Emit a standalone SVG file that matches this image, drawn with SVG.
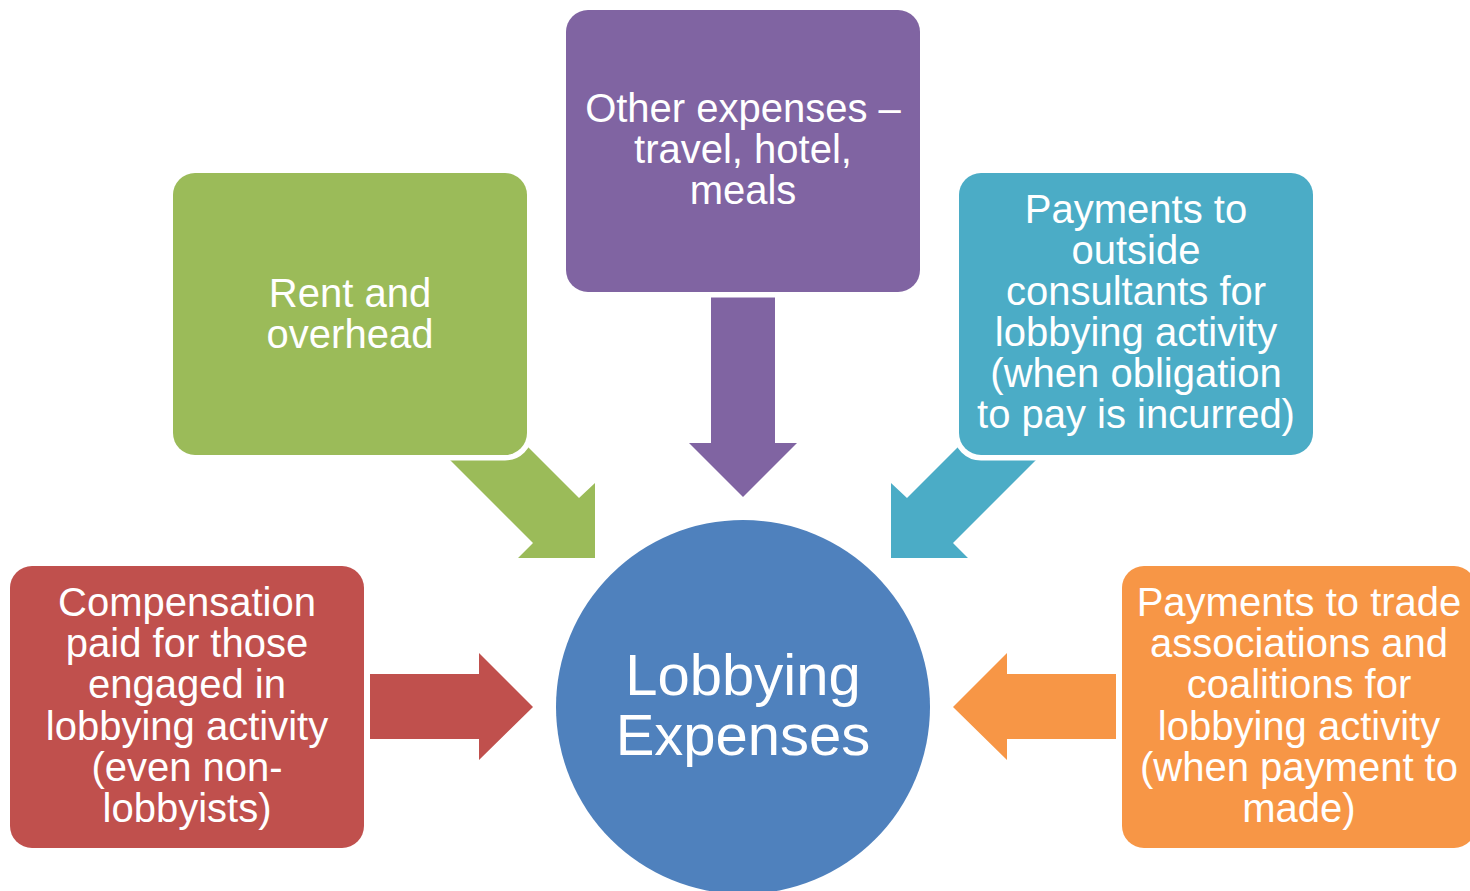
<svg xmlns="http://www.w3.org/2000/svg" width="1470" height="891" viewBox="0 0 1470 891">
<style>
.box{stroke:#FFFFFF;stroke-width:11;paint-order:stroke;}
.t{font-family:"Liberation Sans",Arial,sans-serif;font-size:40px;fill:#FFFFFF;text-anchor:middle;}
.tc{font-family:"Liberation Sans",Arial,sans-serif;font-size:58px;fill:#FFFFFF;text-anchor:middle;}
</style>
<rect width="1470" height="891" fill="#FFFFFF"/>
<g id="connectors">
<polygon points="440,450 533,543 518,558 595,558 595,483 579,498 520,439" fill="#9BBB59"/>
<polygon points="1046,450 953,543 968,558 891,558 891,483 907,498 966,439" fill="#4BACC6"/>
<polygon points="711,285 775,285 775,443 797,443 743,497 689,443 711,443" fill="#8064A2"/>
<polygon points="370,674 479,674 479,653 533,707 479,760 479,739 370,739" fill="#C0504D"/>
<polygon points="1116,674 1007,674 1007,653 953,707 1007,760 1007,739 1116,739" fill="#F79646"/>
</g>
<g id="center">
<circle cx="743" cy="707" r="187" fill="#4F81BD"/>
<text class="tc" x="743" y="695">Lobbying</text>
<text class="tc" x="743" y="755">Expenses</text>
</g>
<g id="node-other">
<rect class="box" x="566" y="10" width="354" height="282" rx="22" fill="#8064A2"/>
<text class="t" x="743" y="122">Other expenses –</text>
<text class="t" x="743" y="163">travel, hotel,</text>
<text class="t" x="743" y="204">meals</text>
</g>
<g id="node-rent">
<rect class="box" x="173" y="173" width="354" height="282" rx="22" fill="#9BBB59"/>
<text class="t" x="350" y="307">Rent and</text>
<text class="t" x="350" y="348">overhead</text>
</g>
<g id="node-consultants">
<rect class="box" x="959" y="173" width="354" height="282" rx="22" fill="#4BACC6"/>
<text class="t" x="1136" y="223">Payments to</text>
<text class="t" x="1136" y="264">outside</text>
<text class="t" x="1136" y="305">consultants for</text>
<text class="t" x="1136" y="346">lobbying activity</text>
<text class="t" x="1136" y="387">(when obligation</text>
<text class="t" x="1136" y="428">to pay is incurred)</text>
</g>
<g id="node-compensation">
<rect class="box" x="10" y="566" width="354" height="282" rx="22" fill="#C0504D"/>
<text class="t" x="187" y="616">Compensation</text>
<text class="t" x="187" y="657">paid for those</text>
<text class="t" x="187" y="698">engaged in</text>
<text class="t" x="187" y="740">lobbying activity</text>
<text class="t" x="187" y="781">(even non-</text>
<text class="t" x="187" y="822">lobbyists)</text>
</g>
<g id="node-trade">
<rect class="box" x="1122" y="566" width="354" height="282" rx="22" fill="#F79646"/>
<text class="t" x="1299" y="616">Payments to trade</text>
<text class="t" x="1299" y="657">associations and</text>
<text class="t" x="1299" y="698">coalitions for</text>
<text class="t" x="1299" y="740">lobbying activity</text>
<text class="t" x="1299" y="781">(when payment to</text>
<text class="t" x="1299" y="822">made)</text>
</g>
</svg>
